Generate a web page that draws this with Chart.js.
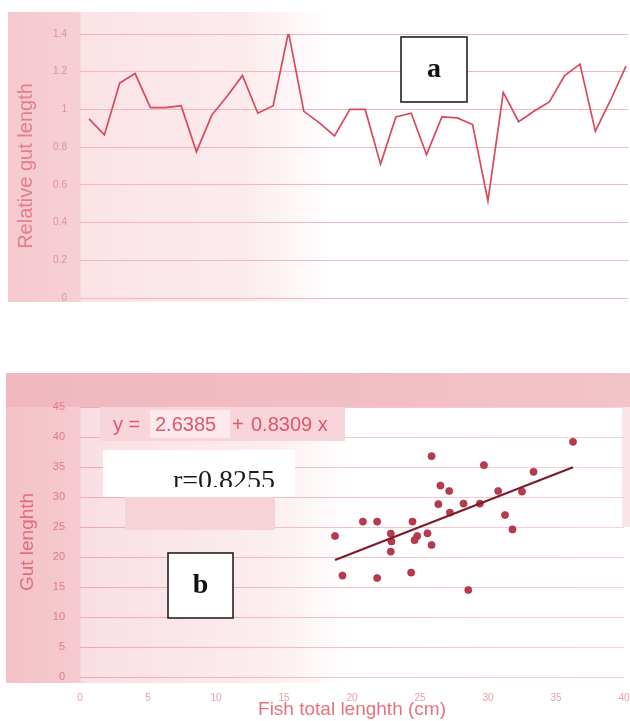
<!DOCTYPE html>
<html><head><meta charset="utf-8">
<script src="https://cdn.jsdelivr.net/npm/chart.js@4/dist/chart.umd.min.js"></script>
<style>
html,body{margin:0;padding:0;background:#fff;width:630px;height:721px;overflow:hidden}
#ca{position:absolute;left:0;top:0}
#cb{position:absolute;left:0;top:360px}
</style></head><body>
<canvas id="ca" width="630" height="330"></canvas>
<canvas id="cb" width="630" height="361"></canvas>
<script>
// ---- Panel a: relative gut length per specimen ----
const specimenNo = [1,2,3,4,5,6,7,8,9,10,11,12,13,14,15,16,17,18,19,20,21,22,23,24,25,26,27,28,29,30,31,32,33,34,35,36];
const relGutLength = [0.95,0.865,1.14,1.19,1.01,1.01,1.02,0.775,0.97,1.07,1.18,0.98,1.02,1.41,0.99,0.93,0.86,1.0,1.0,0.71,0.96,0.98,0.76,0.96,0.955,0.92,0.515,1.09,0.935,0.99,1.04,1.18,1.24,0.885,1.05,1.23];
const relTicks = [0,0.2,0.4,0.6,0.8,1,1.2,1.4];

// ---- Panel b: gut length vs fish total length ----
const fishLength = [18.75,19.3,20.8,21.85,21.85,22.85,22.9,22.85,24.45,24.35,24.8,24.6,25.55,25.85,26.35,25.85,26.5,27.15,28.2,28.55,29.7,29.4,30.75,31.25,31.8,32.5,33.35,36.25,27.2];
const gutLength  = [23.5,16.9,25.9,25.9,16.5,23.9,22.6,20.9,25.9,17.4,23.5,22.8,23.95,22.0,28.8,36.8,31.9,31.0,28.9,14.5,35.3,28.9,31.0,27.0,24.6,30.9,34.2,39.2,27.4];
const trendX = [18.75,36.25];
const trendY = [19.5,34.95];
const gutTicks = [0,5,10,15,20,25,30,35,40,45];
const lengthTicks = [0,5,10,15,20,25,30,35,40];

const SANS = '"Liberation Sans", Arial, sans-serif';
const SERIF = '"Liberation Serif", "Times New Roman", serif';

function zeroPad(s){ s.paddingLeft = 0; s.paddingRight = 0; s.paddingTop = 0; s.paddingBottom = 0; }

function box(ctx, x, y, w, h, label){
  ctx.save();
  ctx.fillStyle = '#fff';
  ctx.fillRect(x, y, w, h);
  ctx.strokeStyle = '#222';
  ctx.lineWidth = 1.6;
  ctx.strokeRect(x, y, w, h);
  ctx.fillStyle = '#111';
  ctx.font = 'bold 28px ' + SERIF;
  ctx.textAlign = 'center';
  ctx.textBaseline = 'middle';
  ctx.fillText(label, x + w/2, y + h/2);
  ctx.restore();
}

const bgA = {
  id: 'bgA',
  beforeDraw(chart){
    const ctx = chart.ctx;
    ctx.save();
    const g = ctx.createLinearGradient(8, 0, 630, 0);
    g.addColorStop(0, '#f5c9cf');
    g.addColorStop(0.115, '#f6d0d5');
    g.addColorStop(0.118, '#fbe3e6');
    g.addColorStop(0.38, '#fcebed');
    g.addColorStop(0.52, '#ffffff');
    g.addColorStop(1, '#ffffff');
    ctx.fillStyle = g;
    ctx.fillRect(8, 12, 622, 290);
    ctx.restore();
  },
  afterDraw(chart){
    box(chart.ctx, 401, 37, 66, 65, 'a');
  }
};

const bgB = {
  id: 'bgB',
  beforeDraw(chart){
    const ctx = chart.ctx;
    ctx.save();
    const g = ctx.createLinearGradient(6, 0, 630, 0);
    g.addColorStop(0, '#f3c2c8');
    g.addColorStop(0.118, '#f5cad0');
    g.addColorStop(0.121, '#f9dfe3');
    g.addColorStop(0.42, '#fcedef');
    g.addColorStop(0.55, '#ffffff');
    g.addColorStop(1, '#ffffff');
    ctx.fillStyle = g;
    ctx.fillRect(6, 13, 624, 310);
    const t = ctx.createLinearGradient(6, 0, 630, 0);
    t.addColorStop(0, '#f0b7bf');
    t.addColorStop(1, '#f3c3ca');
    ctx.fillStyle = t;
    ctx.fillRect(6, 13, 624, 34);
    ctx.fillStyle = '#fbe4e7';
    ctx.fillRect(622, 47, 8, 120);
    ctx.restore();
  },
  afterDraw(chart){
    const ctx = chart.ctx;
    ctx.save();
    // equation band
    ctx.fillStyle = '#f7d5da';
    ctx.fillRect(100, 47, 245, 34);
    ctx.fillStyle = '#fbe9ec';
    ctx.fillRect(150, 50, 80, 28);
    ctx.fillStyle = '#e0566a';
    ctx.font = '20px ' + SANS;
    ctx.textBaseline = 'middle';
    ctx.textAlign = 'left';
    ctx.fillText('y =', 113, 65);
    ctx.fillText('2.6385', 155, 65);
    ctx.fillText('+', 232, 65);
    ctx.fillText('0.8309 x', 251, 65);
    // r box
    ctx.fillStyle = '#ffffff';
    ctx.fillRect(103, 90, 192, 47);
    ctx.fillStyle = '#f6d3d8';
    ctx.fillRect(125, 137, 150, 33);
    ctx.save();
    ctx.beginPath();
    ctx.rect(103, 90, 192, 37);
    ctx.clip();
    ctx.fillStyle = '#1a1a1a';
    ctx.font = '28px ' + SERIF;
    ctx.textAlign = 'center';
    ctx.textBaseline = 'alphabetic';
    ctx.fillText('r=0.8255', 224, 129);
    ctx.restore();
    ctx.restore();
    box(ctx, 168, 193, 65, 65, 'b');
  }
};

function gridGradB(chart){
  const ctx = chart.ctx;
  const g = ctx.createLinearGradient(80, 0, 624, 0);
  g.addColorStop(0, '#eea9b2');
  g.addColorStop(0.5, '#f3c3c9');
  g.addColorStop(1, '#f6d3d8');
  return g;
}

new Chart(document.getElementById('ca'), {
  type: 'line',
  data: {
    datasets: [{
      data: specimenNo.map((n, i) => ({x: n, y: relGutLength[i]})),
      borderColor: '#d9485b',
      borderWidth: 1.7,
      pointRadius: 0,
      tension: 0,
      fill: false
    }]
  },
  options: {
    responsive: false,
    animation: false,
    events: [],
    layout: {padding: {left: 0, right: 2, top: 34, bottom: 32}},
    plugins: {legend: {display: false}, tooltip: {enabled: false}},
    scales: {
      x: {type: 'linear', min: 0.41, max: 36.13, display: false},
      y: {
        min: 0, max: 1.4,
        afterBuildTicks: s => { s.ticks = relTicks.map(v => ({value: v})); },
        afterFit: s => { s.width = 80; zeroPad(s); },
        ticks: {
          callback: v => String(v),
          color: '#e3909b',
          font: {family: SANS, size: 10},
          padding: 13
        },
        grid: {color: '#f1b6be', lineWidth: 1, drawTicks: false},
        border: {display: false},
        title: {
          display: true,
          text: 'Relative gut length',
          color: '#e57d8a',
          font: {family: SANS, size: 20},
          padding: {top: 14, bottom: 0}
        }
      }
    }
  },
  plugins: [bgA]
});

new Chart(document.getElementById('cb'), {
  type: 'scatter',
  data: {
    datasets: [
      {
        type: 'line',
        data: trendX.map((x, i) => ({x, y: trendY[i]})),
        borderColor: '#7e1b2c',
        borderWidth: 2.2,
        pointRadius: 0,
        fill: false
      },
      {
        data: fishLength.map((x, i) => ({x, y: gutLength[i]})),
        backgroundColor: '#b73a4d',
        borderColor: '#a5293d',
        borderWidth: 0.6,
        pointRadius: 3.6
      }
    ]
  },
  options: {
    responsive: false,
    animation: false,
    events: [],
    layout: {padding: {left: 0, right: 6, top: 47, bottom: 0}},
    plugins: {legend: {display: false}, tooltip: {enabled: false}},
    scales: {
      x: {
        type: 'linear', min: 0, max: 40,
        afterBuildTicks: s => { s.ticks = lengthTicks.map(v => ({value: v})); },
        afterFit: s => { s.height = 44; zeroPad(s); },
        ticks: {
          callback: v => String(v),
          color: '#e9a0a8',
          font: {family: SANS, size: 10},
          padding: 15,
          maxRotation: 0
        },
        grid: {display: false, drawTicks: false},
        border: {display: false},
        title: {
          display: true,
          text: 'Fish total lenghth (cm)',
          color: '#e6717f',
          font: {family: SANS, size: 19},
          padding: {top: 0, bottom: 0}
        }
      },
      y: {
        min: 0, max: 45,
        afterBuildTicks: s => { s.ticks = gutTicks.map(v => ({value: v})); },
        afterFit: s => { s.width = 80; zeroPad(s); },
        ticks: {
          callback: v => String(v),
          color: '#df7b88',
          font: {family: SANS, size: 11},
          padding: 15
        },
        grid: {color: ctx => gridGradB(ctx.chart), lineWidth: 1, drawTicks: false},
        border: {display: false},
        title: {
          display: true,
          text: 'Gut lenghth',
          color: '#e06b7a',
          font: {family: SANS, size: 19},
          padding: {top: 16, bottom: 0}
        }
      }
    }
  },
  plugins: [bgB]
});
</script>
</body></html>
